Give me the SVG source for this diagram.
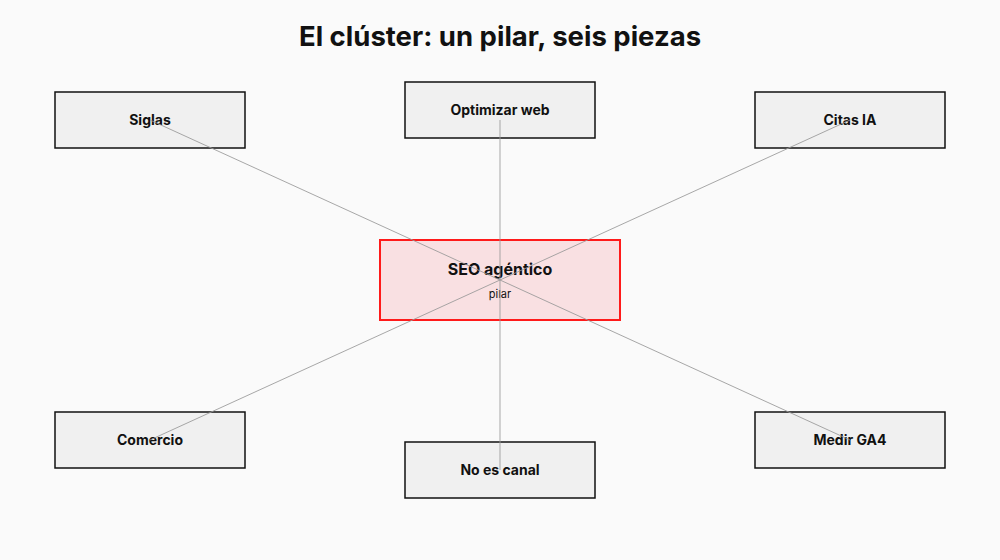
<svg xmlns="http://www.w3.org/2000/svg" width="1000" height="560" viewBox="0 0 1000 560">
<style>
.n rect{fill:#f0f0f0;stroke:#111;stroke-width:1.5}
.t{font-family:Inter,"Open Sans",sans-serif;font-weight:700;font-size:14px;fill:#111;text-anchor:middle}
.c line{stroke:#999;stroke-width:1;opacity:0.85}
</style>
<rect width="1000" height="560" fill="#fafafa"/>
<text x="500" y="46" class="t" style="font-size:27.5px">El clúster: un pilar, seis piezas</text>
<g id="pilar"><rect x="380" y="240" width="240" height="80" fill="#f9e0e2" stroke="#ff1a1a" stroke-width="2"/>
<text x="500" y="275" class="t" style="font-size:16px">SEO agéntico</text>
<text x="500" y="298" style="font-family:Inter,sans-serif;font-size:11px;fill:#111;text-anchor:middle">pilar</text></g>
<g id="siglas" class="n"><rect x="55" y="92" width="190" height="56"/><text x="150" y="125" class="t">Siglas</text></g>
<g id="optimizar" class="n"><rect x="405" y="82" width="190" height="56"/><text x="500" y="115" class="t">Optimizar web</text></g>
<g id="citas" class="n"><rect x="755" y="92" width="190" height="56"/><text x="850" y="125" class="t">Citas IA</text></g>
<g id="comercio" class="n"><rect x="55" y="412" width="190" height="56"/><text x="150" y="445" class="t">Comercio</text></g>
<g id="canal" class="n"><rect x="405" y="442" width="190" height="56"/><text x="500" y="475" class="t">No es canal</text></g>
<g id="medir" class="n"><rect x="755" y="412" width="190" height="56"/><text x="850" y="445" class="t">Medir GA4</text></g>
<g id="connectors" class="c">
<line x1="500" y1="280" x2="150" y2="120"/>
<line x1="500" y1="280" x2="500" y2="120"/>
<line x1="500" y1="280" x2="850" y2="120"/>
<line x1="500" y1="280" x2="150" y2="440"/>
<line x1="500" y1="280" x2="500" y2="470"/>
<line x1="500" y1="280" x2="850" y2="440"/>
</g>
</svg>
